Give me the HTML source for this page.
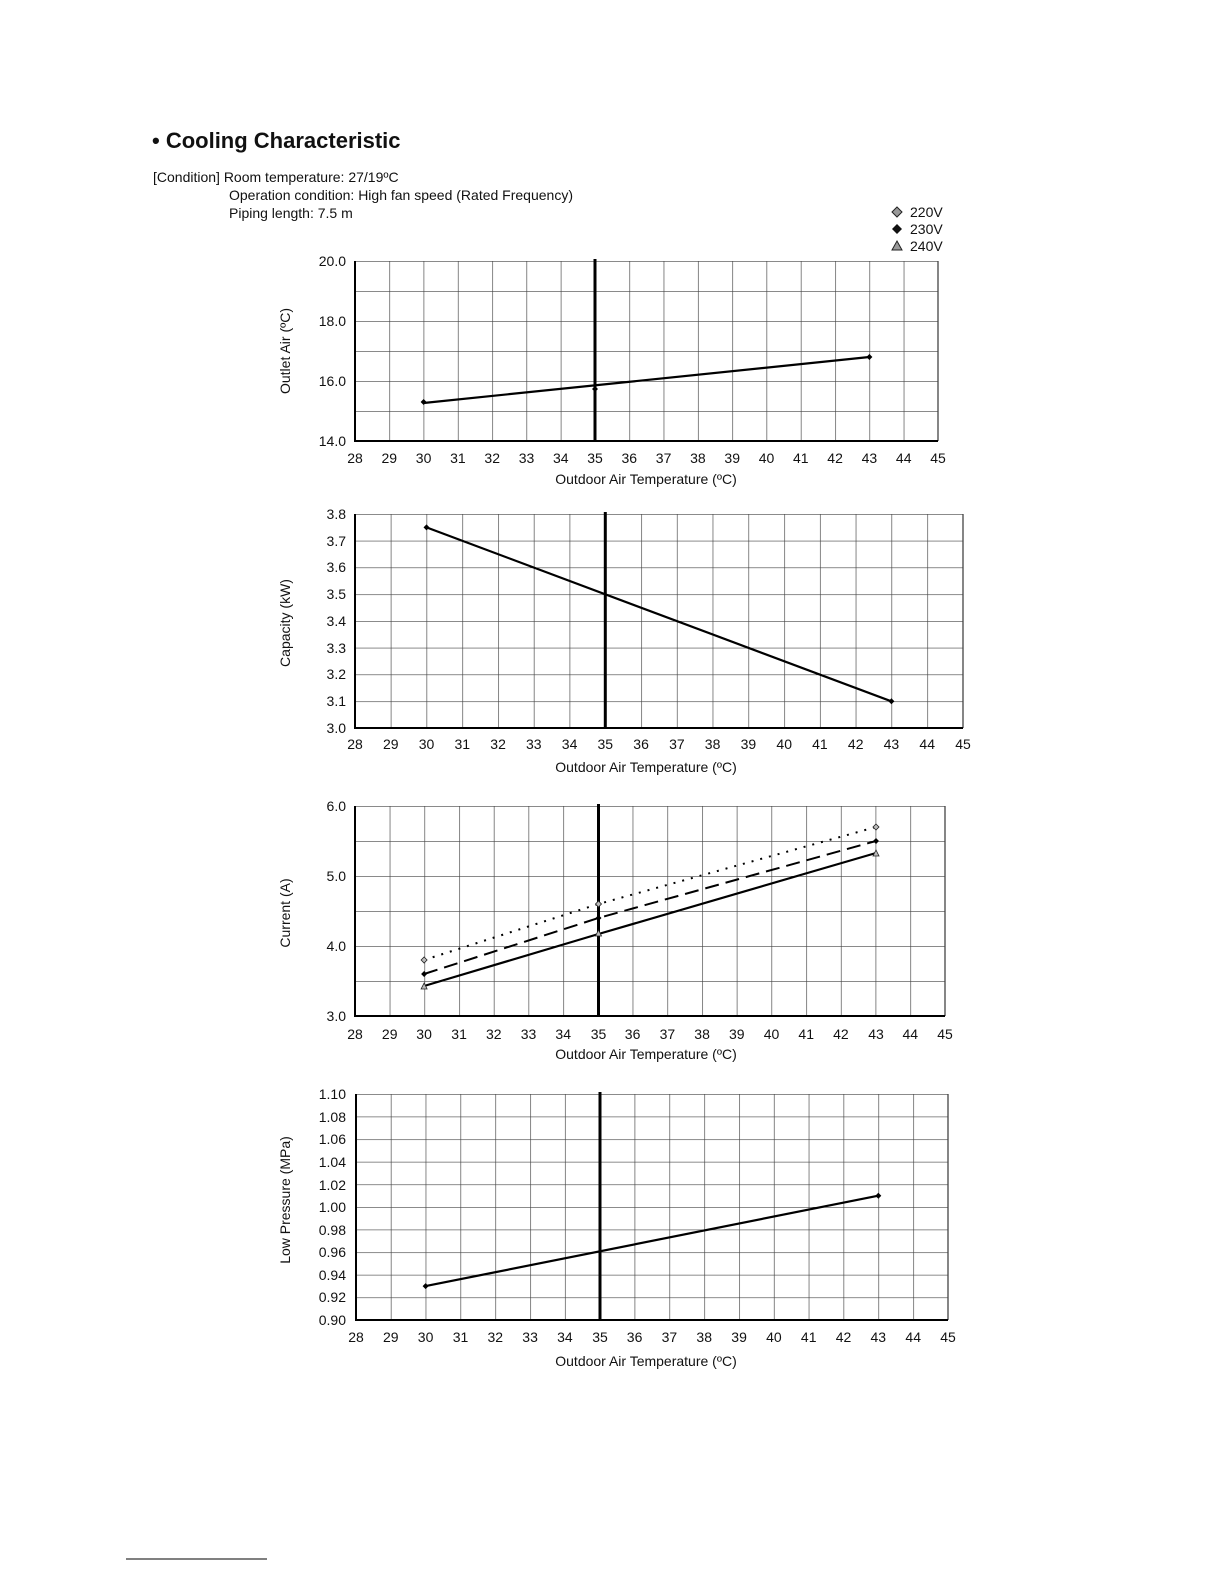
<!DOCTYPE html>
<html><head><meta charset="utf-8"><style>
html,body{margin:0;padding:0;background:#fff;overflow:hidden;width:1224px;height:1584px}
svg{display:block;position:absolute;left:0;top:0}
text{font-family:"Liberation Sans",Arial,sans-serif;fill:#111}
</style></head><body>
<svg width="1224" height="1584" viewBox="0 0 1224 1584" xmlns="http://www.w3.org/2000/svg">
<defs>
<pattern id="g1" patternUnits="userSpaceOnUse" x="355" y="261" width="34.294" height="30"><path d="M0 0V30M0 0H34.294" stroke="#444" stroke-width="1.3" fill="none"/></pattern>
<pattern id="g2" patternUnits="userSpaceOnUse" x="355" y="514" width="35.765" height="26.75"><path d="M0 0V26.75M0 0H35.765" stroke="#444" stroke-width="1.3" fill="none"/></pattern>
<pattern id="g3" patternUnits="userSpaceOnUse" x="355" y="806" width="34.706" height="35"><path d="M0 0V35M0 0H34.706" stroke="#444" stroke-width="1.3" fill="none"/></pattern>
<pattern id="g4" patternUnits="userSpaceOnUse" x="356" y="1094" width="34.824" height="22.6"><path d="M0 0V22.6M0 0H34.824" stroke="#444" stroke-width="1.3" fill="none"/></pattern>
</defs>

<text x="152" y="148" font-size="22" font-weight="bold">• Cooling Characteristic</text>
<text x="153" y="182" font-size="14">[Condition] Room temperature: 27/19ºC</text>
<text x="229" y="200" font-size="14">Operation condition: High fan speed (Rated Frequency)</text>
<text x="229" y="218" font-size="14">Piping length: 7.5 m</text>
<path d="M897 207l5 5-5 5-5-5z" fill="#999" stroke="#222" stroke-width="1"/>
<text x="910" y="217" font-size="14">220V</text>
<path d="M897 224l5 5-5 5-5-5z" fill="#111"/>
<text x="910" y="234" font-size="14">230V</text>
<path d="M897 241l5 9h-10z" fill="#999" stroke="#222" stroke-width="1"/>
<text x="910" y="251" font-size="14">240V</text>

<!-- Chart 1 -->
<rect x="355" y="261" width="583" height="180" fill="url(#g1)"/>
<path d="M938 261V441" stroke="#444" stroke-width="1.3"/>
<path d="M355 261V441H938" stroke="#000" stroke-width="2" fill="none"/>
<path d="M595 259V441" stroke="#000" stroke-width="3"/>
<path d="M423.6 403L869.4 357" stroke="#000" stroke-width="2.2"/>
<path d="M423.6 399l3 3-3 3-3-3zM595 386l3 3-3 3-3-3zM869.4 354l3 3-3 3-3-3z" fill="#000"/>
<g font-size="14" text-anchor="end"><text x="346" y="266">20.0</text><text x="346" y="326">18.0</text><text x="346" y="386">16.0</text><text x="346" y="446">14.0</text></g>
<g font-size="14" text-anchor="middle">
<text x="355" y="463">28</text><text x="389.3" y="463">29</text><text x="423.6" y="463">30</text><text x="457.9" y="463">31</text><text x="492.2" y="463">32</text><text x="526.5" y="463">33</text><text x="560.8" y="463">34</text><text x="595" y="463">35</text><text x="629.3" y="463">36</text><text x="663.6" y="463">37</text><text x="697.9" y="463">38</text><text x="732.2" y="463">39</text><text x="766.5" y="463">40</text><text x="800.8" y="463">41</text><text x="835.1" y="463">42</text><text x="869.4" y="463">43</text><text x="903.7" y="463">44</text><text x="938" y="463">45</text>
<text x="646" y="484">Outdoor  Air Temperature (ºC)</text>
<text transform="translate(290,351) rotate(-90)">Outlet Air (ºC)</text>
</g>

<!-- Chart 2 -->
<rect x="355" y="514" width="608" height="214" fill="url(#g2)"/>
<path d="M963 514V728" stroke="#444" stroke-width="1.3"/>
<path d="M355 514V728H963" stroke="#000" stroke-width="2" fill="none"/>
<path d="M605.3 512V728" stroke="#000" stroke-width="3"/>
<path d="M426.5 527.4L891.4 701.3" stroke="#000" stroke-width="2.2"/>
<path d="M426.5 524.4l3 3-3 3-3-3zM891.4 698.3l3 3-3 3-3-3z" fill="#000"/>
<g font-size="14" text-anchor="end"><text x="346" y="519">3.8</text><text x="346" y="546">3.7</text><text x="346" y="572">3.6</text><text x="346" y="599">3.5</text><text x="346" y="626">3.4</text><text x="346" y="653">3.3</text><text x="346" y="679">3.2</text><text x="346" y="706">3.1</text><text x="346" y="733">3.0</text></g>
<g font-size="14" text-anchor="middle">
<text x="355" y="749">28</text><text x="390.8" y="749">29</text><text x="426.5" y="749">30</text><text x="462.3" y="749">31</text><text x="498.1" y="749">32</text><text x="533.8" y="749">33</text><text x="569.6" y="749">34</text><text x="605.3" y="749">35</text><text x="641.1" y="749">36</text><text x="676.9" y="749">37</text><text x="712.6" y="749">38</text><text x="748.4" y="749">39</text><text x="784.2" y="749">40</text><text x="819.9" y="749">41</text><text x="855.7" y="749">42</text><text x="891.4" y="749">43</text><text x="927.2" y="749">44</text><text x="963" y="749">45</text>
<text x="646" y="772">Outdoor  Air Temperature (ºC)</text>
<text transform="translate(290,623) rotate(-90)">Capacity (kW)</text>
</g>

<!-- Chart 3 -->
<rect x="355" y="806" width="590" height="210" fill="url(#g3)"/>
<path d="M945 806V1016" stroke="#444" stroke-width="1.3"/>
<path d="M355 806V1016H945" stroke="#000" stroke-width="2" fill="none"/>
<path d="M598.5 804V1016" stroke="#000" stroke-width="3"/>
<path d="M424.1 960L598.5 904L876 827" stroke="#000" stroke-width="2" stroke-dasharray="2 7" fill="none"/>
<path d="M424.1 974L598.5 918L876 841" stroke="#000" stroke-width="2" stroke-dasharray="14 7" fill="none"/>
<path d="M424.1 986L598.5 934L876 853" stroke="#000" stroke-width="2.2" fill="none"/>
<path d="M424.1 957l3 3-3 3-3-3zM598.5 901l3 3-3 3-3-3zM876 824l3 3-3 3-3-3z" fill="#bbb" stroke="#222" stroke-width="0.8"/>
<path d="M424.1 971l3 3-3 3-3-3zM598.5 915l3 3-3 3-3-3zM876 838l3 3-3 3-3-3z" fill="#000"/>
<path d="M424.1 983l3 6h-6zM598.5 930l3 6h-6zM876 850l3 6h-6z" fill="#bbb" stroke="#222" stroke-width="0.8"/>
<g font-size="14" text-anchor="end"><text x="346" y="811">6.0</text><text x="346" y="881">5.0</text><text x="346" y="951">4.0</text><text x="346" y="1021">3.0</text></g>
<g font-size="14" text-anchor="middle">
<text x="355" y="1039">28</text><text x="389.7" y="1039">29</text><text x="424.1" y="1039">30</text><text x="459.1" y="1039">31</text><text x="493.8" y="1039">32</text><text x="528.5" y="1039">33</text><text x="563.2" y="1039">34</text><text x="598.5" y="1039">35</text><text x="632.6" y="1039">36</text><text x="667.4" y="1039">37</text><text x="702.1" y="1039">38</text><text x="736.8" y="1039">39</text><text x="771.5" y="1039">40</text><text x="806.2" y="1039">41</text><text x="840.9" y="1039">42</text><text x="876" y="1039">43</text><text x="910.3" y="1039">44</text><text x="945" y="1039">45</text>
<text x="646" y="1059">Outdoor  Air Temperature (ºC)</text>
<text transform="translate(290,913) rotate(-90)">Current (A)</text>
</g>

<!-- Chart 4 -->
<rect x="356" y="1094" width="592" height="226" fill="url(#g4)"/>
<path d="M948 1094V1320" stroke="#444" stroke-width="1.3"/>
<path d="M356 1094V1320H948" stroke="#000" stroke-width="2" fill="none"/>
<path d="M600 1092V1320" stroke="#000" stroke-width="3"/>
<path d="M425.6 1286.1L878.3 1195.7" stroke="#000" stroke-width="2.2"/>
<path d="M425.6 1283.1l3 3-3 3-3-3zM878.3 1192.7l3 3-3 3-3-3z" fill="#000"/>
<g font-size="14" text-anchor="end"><text x="346" y="1099">1.10</text><text x="346" y="1122">1.08</text><text x="346" y="1144">1.06</text><text x="346" y="1167">1.04</text><text x="346" y="1190">1.02</text><text x="346" y="1212">1.00</text><text x="346" y="1235">0.98</text><text x="346" y="1257">0.96</text><text x="346" y="1280">0.94</text><text x="346" y="1302">0.92</text><text x="346" y="1325">0.90</text></g>
<g font-size="14" text-anchor="middle">
<text x="356" y="1342">28</text><text x="390.8" y="1342">29</text><text x="425.6" y="1342">30</text><text x="460.5" y="1342">31</text><text x="495.3" y="1342">32</text><text x="530.1" y="1342">33</text><text x="564.9" y="1342">34</text><text x="600" y="1342">35</text><text x="634.6" y="1342">36</text><text x="669.4" y="1342">37</text><text x="704.2" y="1342">38</text><text x="739.1" y="1342">39</text><text x="773.9" y="1342">40</text><text x="808.7" y="1342">41</text><text x="843.5" y="1342">42</text><text x="878.3" y="1342">43</text><text x="913.2" y="1342">44</text><text x="948" y="1342">45</text>
<text x="646" y="1366">Outdoor  Air Temperature (ºC)</text>
<text transform="translate(290,1200) rotate(-90)">Low Pressure (MPa)</text>
</g>

<path d="M126 1559H267" stroke="#000" stroke-width="1"/>
</svg>
</body></html>
